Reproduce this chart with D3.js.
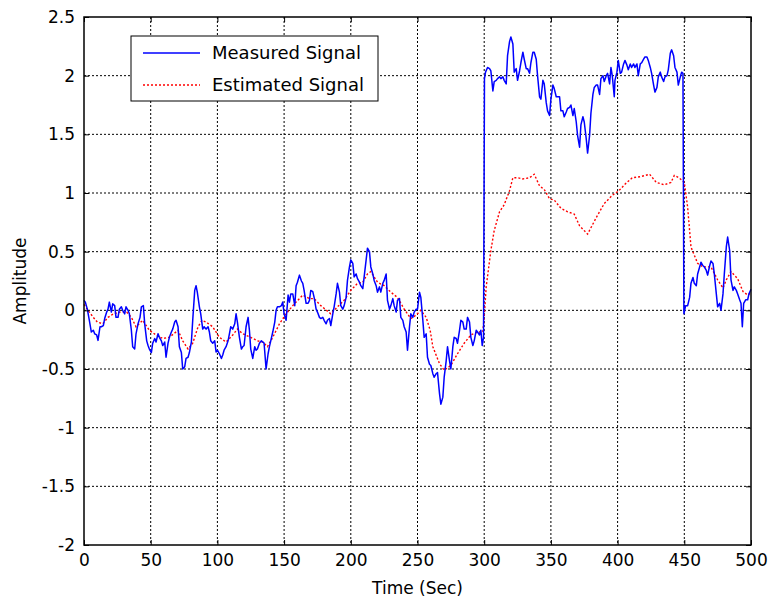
<!DOCTYPE html>
<html><head><meta charset="utf-8">
<script src="https://cdn.jsdelivr.net/npm/d3@7"></script>
<style>body{margin:0;background:#fff}svg{display:block}text{font-family:"DejaVu Sans",Arial,sans-serif}</style>
</head><body><svg id="c" width="774" height="605"></svg>
<script>
const xTicks=[0,50,100,150,200,250,300,350,400,450,500];
const yTicks=[-2,-1.5,-1,-0.5,0,0.5,1,1.5,2,2.5];
const seriesNames=["Measured Signal","Estimated Signal"];
const measuredT=[0,1,2.5,4,5.5,7,8,9.5,10.5,12,13,14.5,15.5,17,18,19,20.5,21.5,23,24,25.5,26.5,28,29,30.5,31.5,33,34,35.5,36.5,38,39,40.5,42,43,44.5,45.5,47,48,49,50.5,51.5,53,54,55.5,56.5,58,59,60.5,61.5,63,64,65.5,66.5,68,69,70.5,71.5,73,74,75.5,76.5,78,79,80.5,81.5,83,84,85,86.5,87.5,89,90,91.5,93,94,95,96.5,98,99,100,101.5,103,104,105,106.5,108,109,110,111.5,113,114,115,116.5,118,119,120,121.5,123,124,125,126.5,128,129,130,131.5,133,134,135,136.5,138,139,140,141.5,143,144,145,146.5,148,149,150,151.5,153,154,155,156.5,158,159,160,161.5,163,164,165,166.5,168,169,170,171.5,172.5,174,175,176.5,177.5,179,180,181.5,182.5,184,185,186.5,187.5,189,190,191.5,192.5,194,195,196.5,197.5,199,200,201.5,202.5,204,205,206.5,207.5,209,210,211.5,212.5,214,215,216.5,217.5,219,220,221.5,222.5,224,225,226.5,227.5,229,230,231.5,232.5,234,235,236.5,237.5,239,240,241.5,242.5,244,245,246.5,247.5,249,250,251.5,252.5,254,255,256.5,257.5,259,260,261.5,262.5,264,265,266.5,267.5,269,270,271.5,272.5,274,275,276.5,277.5,279,280,281.5,282.5,284,285,286.5,287.5,289,290,291.5,292.5,294,295,296.5,297.5,298.5,299.5,300.2,301,302.5,304,305,306.5,307.5,309,310,311.5,312.5,314,315,316.5,317.5,319,320,321.5,322.5,324,325,326.5,327.5,329,330,331.5,332.5,334,335,336.5,337.5,339,340,341.5,342.5,344,345,346.5,347.5,349,350,351.5,352.5,354,355,356.5,357.5,359,360,361.5,362.5,364,365,366.5,367.5,369,370,371.5,372.5,374,375,376.5,377.5,379,380,381.5,382.5,384,385,386.5,387.5,389,390,391.5,392.5,394,395,396,397.5,398,399.5,400.5,402,403,404.5,405.5,407,408,409.5,410.5,412,413,414.5,415.5,417,418,419.5,420.5,422,423,424.5,425.5,427,428,429.5,430.5,432,433,434.5,435.5,437,438,439.5,440.5,442,443,444.5,445.5,447,448,449,449.7,451,452.5,454,455,456.5,457.5,459,460,461.5,462.5,464,465,466.5,467.5,469,470,471.5,472.5,474,475,476.5,477.5,479,480,481.5,482.5,484,485,486.5,487.5,489,490,491.5,492.5,493.5,494.5,496,497.5,498.5,500];
const measuredV=[0.085,0.07,0.01,-0.085,-0.185,-0.17,-0.2,-0.21,-0.256,-0.14,-0.14,-0.13,-0.07,-0.015,0.01,0.07,-0.015,0.055,0.04,-0.06,-0.06,0.01,0.03,0,-0.03,0.03,0,-0.03,-0.17,-0.31,-0.33,-0.2,-0.115,-0.06,0.03,0.04,-0.115,-0.26,-0.3,-0.33,-0.36,-0.28,-0.24,-0.27,-0.2,-0.23,-0.26,-0.3,-0.27,-0.4,-0.28,-0.23,-0.185,-0.16,-0.1,-0.085,-0.14,-0.31,-0.36,-0.5,-0.48,-0.41,-0.4,-0.36,-0.27,-0.085,0.17,0.21,0.15,0.03,-0.03,-0.16,-0.14,-0.16,-0.14,-0.185,-0.26,-0.28,-0.26,-0.355,-0.34,-0.37,-0.41,-0.38,-0.34,-0.31,-0.26,-0.2,-0.14,-0.16,-0.115,-0.03,-0.1,-0.23,-0.33,-0.31,-0.3,-0.14,-0.06,-0.17,-0.33,-0.41,-0.31,-0.34,-0.33,-0.28,-0.26,-0.27,-0.28,-0.5,-0.37,-0.31,-0.26,-0.185,-0.1,0,0.03,0.03,0.04,0.07,-0.03,-0.085,0.13,0.07,0.14,0.14,0.04,0.21,0.24,0.3,0.25,0.23,0.17,0.06,0.06,0.085,0.17,0.16,0.11,0.01,-0.015,-0.06,-0.07,-0.06,-0.085,-0.115,-0.085,-0.07,-0.13,-0.03,0.03,0.14,0.23,0.155,0.04,0.01,0.04,0.11,0.255,0.37,0.43,0.4,0.285,0.31,0.27,0.24,0.21,0.185,0.285,0.43,0.53,0.5,0.37,0.31,0.255,0.21,0.155,0.2,0.155,0.23,0.255,0.31,0.085,0.01,0.04,0.1,0.04,-0.015,0.085,0.1,-0.06,-0.085,-0.14,-0.185,-0.34,-0.14,-0.03,-0.06,-0.015,0.01,0.01,0.155,0.11,-0.085,-0.23,-0.2,-0.4,-0.46,-0.47,-0.54,-0.57,-0.54,-0.53,-0.71,-0.8,-0.74,-0.57,-0.43,-0.31,-0.43,-0.5,-0.31,-0.23,-0.24,-0.28,-0.17,-0.085,-0.1,-0.16,-0.16,-0.06,-0.1,-0.23,-0.3,-0.26,-0.17,-0.185,-0.21,-0.17,-0.3,-0.23,1.975,2.03,2.07,2.06,2.04,1.87,1.95,1.96,1.975,1.99,1.975,1.99,1.96,1.93,2.17,2.29,2.33,2.27,2.03,2.06,1.96,2.04,2.11,2.2,2.14,2.06,2.06,2.02,2.11,2.2,2.2,2.14,2.0,1.82,1.8,1.96,1.93,1.77,1.7,1.66,1.8,1.92,1.89,1.82,1.82,1.82,1.7,1.7,1.65,1.69,1.72,1.73,1.75,1.66,1.72,1.605,1.49,1.39,1.58,1.65,1.605,1.46,1.34,1.49,1.68,1.84,1.9,1.92,1.92,1.84,1.975,2.0,1.95,2.0,2.02,1.93,2.07,2.0,1.82,1.96,2.03,2.13,2.02,2.03,2.1,2.13,2.09,2.05,2.1,2.07,2.1,2.07,2.1,2.0,2.1,2.11,2.14,2.16,2.16,2.13,2.07,2.02,1.92,1.86,1.9,1.99,2.03,1.99,1.95,1.99,2.0,2.05,2.19,2.22,2.17,2.07,2.03,1.92,1.99,2.03,2.02,-0.03,0.04,0.04,0.11,0.23,0.28,0.23,0.21,0.31,0.37,0.41,0.38,0.37,0.34,0.3,0.38,0.42,0.4,0.31,0.14,0.03,0.06,0.0,0.14,0.31,0.54,0.625,0.51,0.26,0.17,0.2,0.17,0.14,0.09,0.06,-0.14,0.06,0.09,0.09,0.14,0.18];
const estimatedT=[0,3,7,10,14,18,22,27,32,35.5,39,44,49,54,59,64,70.5,74,78,81.5,85.5,88.5,91.5,96.5,101.5,106.5,111.5,115,119,125,130,134,137.5,141.5,146.5,151.5,156.5,161.5,164,169,172.5,177.5,185,190,195,200,205,209,212.5,215,220,225,230,235,240,245,249,252.5,256.5,259.5,261.5,266.5,270,275,280,285,290,295,299,300,301.5,305,307.5,311.5,315,319,321.5,325,329,334,337.5,341.5,345,349,352.5,357.5,362.5,367.5,371.5,377.5,384,390,396,401,406,411,417.5,424,429,435,440,442.5,446,450,452.5,455,460,464,470,475,479,481.5,485,490,494,497.5,500];
const estimatedV=[0.05,0.0,-0.06,-0.1,-0.115,-0.06,-0.03,-0.015,-0.015,-0.06,-0.14,-0.085,-0.17,-0.21,-0.24,-0.23,-0.17,-0.26,-0.33,-0.28,-0.14,-0.085,-0.1,-0.14,-0.23,-0.27,-0.21,-0.16,-0.2,-0.23,-0.26,-0.27,-0.31,-0.23,-0.115,-0.03,0.04,0.1,0.13,0.1,0.1,0.04,-0.03,0.03,0.085,0.17,0.23,0.24,0.31,0.33,0.24,0.21,0.155,0.11,0.01,-0.07,-0.04,0.0,-0.06,-0.17,-0.31,-0.455,-0.51,-0.47,-0.37,-0.28,-0.21,-0.185,-0.185,-0.06,0.2,0.51,0.68,0.84,0.9,1.02,1.13,1.13,1.12,1.13,1.16,1.06,1.03,0.95,0.94,0.87,0.84,0.82,0.72,0.65,0.79,0.91,0.98,1.02,1.08,1.13,1.14,1.16,1.09,1.07,1.09,1.15,1.13,1.09,0.88,0.54,0.4,0.37,0.37,0.26,0.19,0.26,0.33,0.27,0.16,0.13,0.15];

const svg=d3.select("#c");
const L=84,R=751,T=17,B=545;
const x=d3.scaleLinear().domain([0,500]).range([L,R]);
const y=d3.scaleLinear().domain([-2,2.5]).range([B,T]);
const FONT="'DejaVu Sans',Arial,sans-serif";

// grid
const g=svg.append("g");
g.selectAll(".vg").data(xTicks.slice(1,-1)).join("line")
 .attr("x1",d=>x(d)).attr("x2",d=>x(d)).attr("y1",T).attr("y2",B)
 .attr("stroke","#000").attr("stroke-width",1).attr("stroke-dasharray","2,2");
g.selectAll(".hg").data(yTicks.slice(1,-1)).join("line")
 .attr("y1",d=>y(d)).attr("y2",d=>y(d)).attr("x1",L).attr("x2",R)
 .attr("stroke","#000").attr("stroke-width",1).attr("stroke-dasharray","2,2");

// lines
const meas=measuredT.map((t,i)=>[t,measuredV[i]]);
const est=estimatedT.map((t,i)=>[t,estimatedV[i]]);
const line=d3.line().x(d=>x(d[0])).y(d=>y(d[1]));
svg.append("path").datum(est).attr("d",line).attr("fill","none")
 .attr("stroke","#ff0000").attr("stroke-width",1.4).attr("stroke-dasharray","2,2");
svg.append("path").datum(meas).attr("d",line).attr("fill","none")
 .attr("stroke","#0000ff").attr("stroke-width",1.5).attr("stroke-linejoin","round");

// axes
const fs="17px";
const ax=svg.append("g").attr("transform",`translate(0,${B})`)
 .call(d3.axisBottom(x).tickValues(xTicks).tickSize(-5).tickPadding(9).tickFormat(d3.format("d")));
const ay=svg.append("g").attr("transform",`translate(${L},0)`)
 .call(d3.axisLeft(y).tickValues(yTicks).tickSize(-5).tickPadding(9).tickFormat(d=>String(d)));
const at=svg.append("g").attr("transform",`translate(0,${T})`)
 .call(d3.axisTop(x).tickValues(xTicks).tickSize(-5).tickFormat(""));
const ar=svg.append("g").attr("transform",`translate(${R},0)`)
 .call(d3.axisRight(y).tickValues(yTicks).tickSize(-5).tickFormat(""));
[ax,ay,at,ar].forEach(a=>{a.select(".domain").remove();a.selectAll("line").attr("stroke","#000");
 a.selectAll("text").attr("fill","#000").style("font-size",fs).style("font-family",FONT);});
svg.append("rect").attr("x",L).attr("y",T).attr("width",R-L).attr("height",B-T)
 .attr("fill","none").attr("stroke","#000").attr("stroke-width",1.5);

svg.append("text").attr("x",(L+R)/2).attr("y",594).attr("text-anchor","middle")
 .style("font-size",fs).text("Time (Sec)");
svg.append("text").attr("transform",`translate(26,${(T+B)/2}) rotate(-90)`).attr("text-anchor","middle")
 .style("font-size",fs).text("Amplitude");

// legend
const lg=svg.append("g");
lg.append("rect").attr("x",131).attr("y",36).attr("width",247).attr("height",65)
 .attr("fill","#fff").attr("stroke","#000").attr("stroke-width",1);
const colors=["#0000ff","#ff0000"],dashes=[null,"2,2"];
seriesNames.forEach((n,i)=>{
 const yy=53+i*32;
 lg.append("line").attr("x1",143).attr("x2",200).attr("y1",yy).attr("y2",yy)
  .attr("stroke",colors[i]).attr("stroke-width",1.4).attr("stroke-dasharray",dashes[i]);
 lg.append("text").attr("x",212).attr("y",yy+6).style("font-size","18px").text(n);
});
</script></body></html>
